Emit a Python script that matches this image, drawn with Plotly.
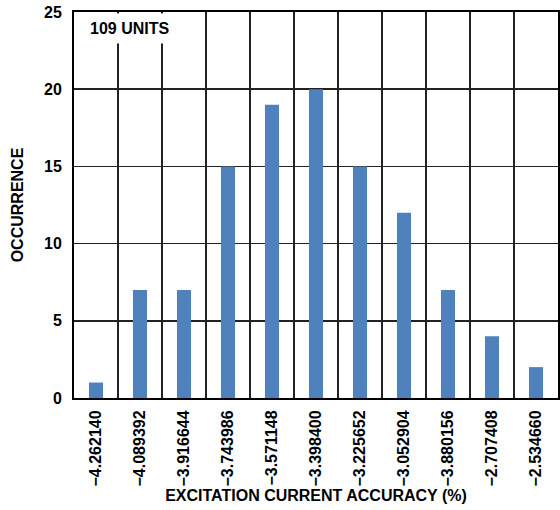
import plotly.graph_objects as go

categories = ["−4.262140", "−4.089392", "−3.916644", "−3.743986", "−3.571148",
              "−3.398400", "−3.225652", "−3.052904", "−3.880156", "−2.707408", "−2.534660"]
occurrence = [1, 7, 7, 15, 19, 20, 15, 12, 7, 4, 2]
y_ticks = [0, 5, 10, 15, 20, 25]

FONT = "Arial, Liberation Sans, sans-serif"

fig = go.Figure(go.Bar(
    x=categories, y=occurrence,
    marker=dict(color="#4F81BD", line=dict(width=0)),
    width=0.32,
))

fig.update_layout(
    width=560, height=510,
    margin=dict(l=74, r=2, t=12, b=112),
    paper_bgcolor="white", plot_bgcolor="white",
    font=dict(family=FONT, size=16, color="black"),
    showlegend=False,
    xaxis=dict(
        type="category", tickson="boundaries", showgrid=True, automargin=False,
        gridcolor="#222222", gridwidth=1.5,
        showline=True, linecolor="black", linewidth=2, mirror=True,
        tickangle=-90, ticks="", ticklabelstandoff=4,
        tickfont=dict(family=FONT, size=16, color="black", weight="bold"),
        title=dict(text="<b>EXCITATION CURRENT ACCURACY (%)</b>", standoff=4,
                   font=dict(family=FONT, size=16)),
        range=[-0.5, 10.5],
    ),
    yaxis=dict(
        range=[0, 25], tickvals=y_ticks, showgrid=True, automargin=False,
        gridcolor="#222222", gridwidth=1.5, zeroline=False,
        showline=True, linecolor="black", linewidth=2, mirror=True,
        ticks="", ticklabelstandoff=7,
        tickfont=dict(family=FONT, size=16, color="black", weight="bold"),
        title=dict(text="<b>OCCURRENCE</b>", standoff=16,
                   font=dict(family=FONT, size=16)),
    ),
    annotations=[dict(
        text="<b>109 UNITS</b>", xref="paper", yref="paper",
        x=0.018, y=0.998, xanchor="left", yanchor="top",
        showarrow=False, bgcolor="white", borderpad=6,
        font=dict(family=FONT, size=16, color="black"),
    )],
)

fig.write_html("out.html", config={"displayModeBar": False, "staticPlot": True},
               post_script="document.body.style.margin='0';document.body.style.overflow='hidden';")
